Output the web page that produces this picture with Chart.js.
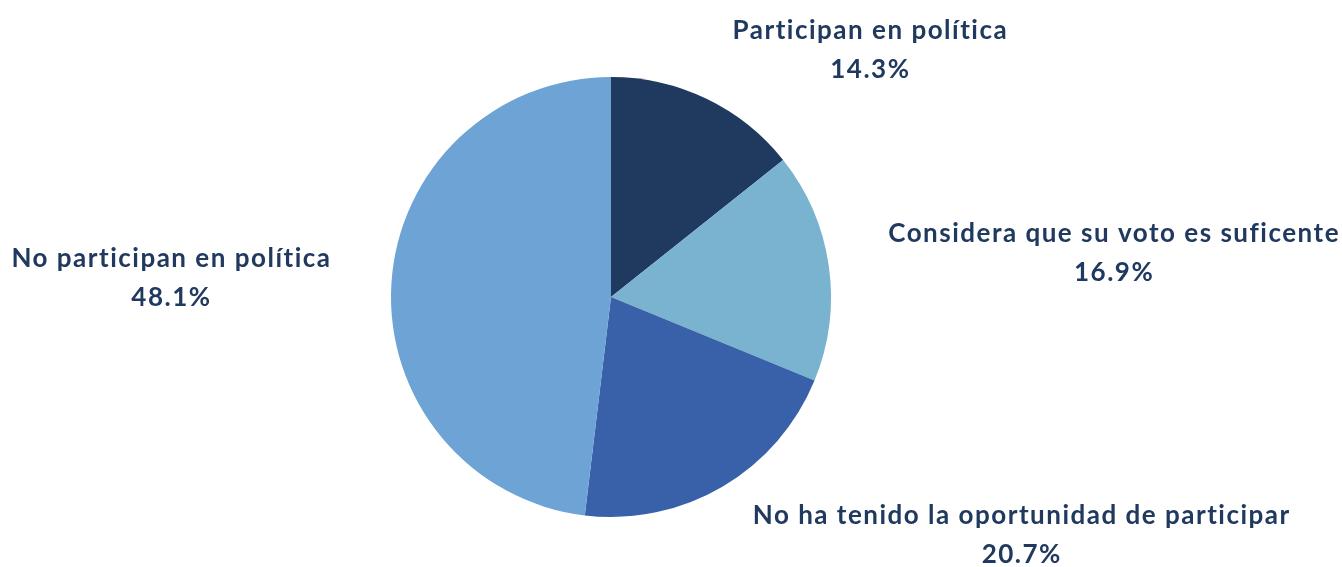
<!DOCTYPE html>
<html>
<head>
<meta charset="utf-8">
<script src="https://cdn.jsdelivr.net/npm/chart.js@4"></script>
<style>
  html, body { margin: 0; padding: 0; background: #fff; }
  #wrap { width: 1342px; height: 567px; position: relative; }
</style>
</head>
<body>
<div id="wrap"><canvas id="pie"></canvas></div>
<script>
var categories = [
    'Participan en política',
    'Considera que su voto es suficente',
    'No ha tenido la oportunidad de participar',
    'No participan en política'
];
var values = [14.3, 16.9, 20.7, 48.1];
var colors = ['#20395e', '#7ab3cf', '#3861a9', '#6ea3d6'];

var textColor = '#20395e';
var labelFont = 'bold 26px Lato, "Open Sans", sans-serif';

// labels outside the pie, pushed away from the centre
var outsideLabels = {
    id: 'outsideLabels',
    afterDatasetsDraw: function(chart) {
        var ctx = chart.ctx;
        var meta = chart.getDatasetMeta(0);
        ctx.save();
        ctx.font = labelFont;
        ctx.letterSpacing = '1.5px';
        ctx.fillStyle = textColor;
        ctx.textAlign = 'center';
        ctx.textBaseline = 'middle';
        meta.data.forEach(function(arc, i) {
            var mid = (arc.startAngle + arc.endAngle) / 2;
            var c = Math.cos(mid), s = Math.sin(mid);
            var R = arc.outerRadius;
            var ax = arc.x + (R + 60) * c;
            var ay = arc.y + (R + 20) * s;
            var line1 = categories[i];
            var line2 = values[i].toFixed(1) + '%';
            var w = Math.max(ctx.measureText(line1).width, ctx.measureText(line2).width);
            var h = 62;
            var sx = Math.max(-1, Math.min(1, c * 2.5));
            var sy = Math.max(-1, Math.min(1, s * 2.5));
            var cx = ax + sx * w / 2;
            var cy = ay + sy * h / 2;
            ctx.fillText(line1, cx, cy - 19);
            ctx.fillText(line2, cx, cy + 20);
        });
        ctx.restore();
    }
};

new Chart(document.getElementById('pie'), {
    type: 'pie',
    data: {
        labels: categories,
        datasets: [{
            data: values,
            backgroundColor: colors,
            borderWidth: 0
        }]
    },
    options: {
        responsive: true,
        maintainAspectRatio: false,
        animation: false,
        layout: {
            padding: { top: 77, bottom: 50, left: 391, right: 511 }
        },
        plugins: {
            legend: { display: false },
            tooltip: { enabled: false }
        }
    },
    plugins: [outsideLabels]
});
</script>
</body>
</html>
